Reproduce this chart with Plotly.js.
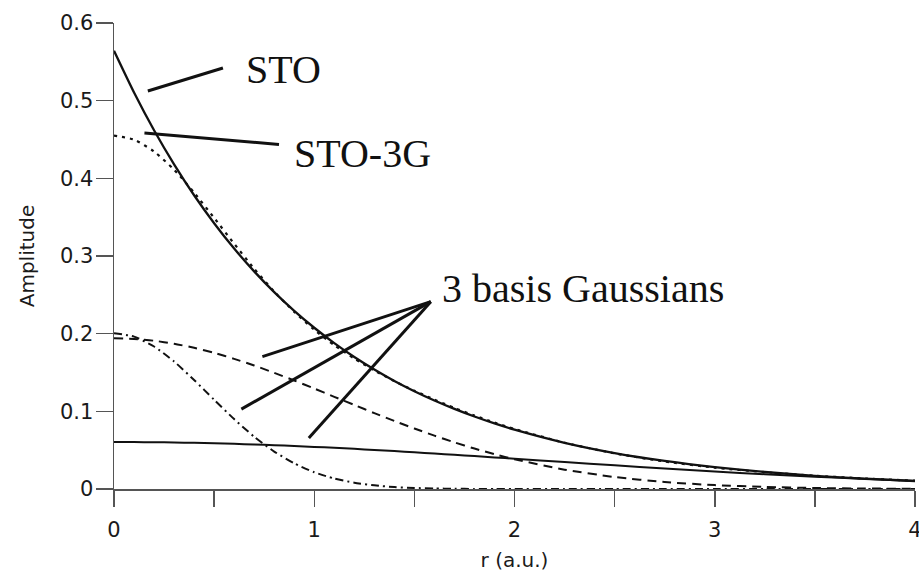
<!DOCTYPE html>
<html>
<head>
<meta charset="utf-8">
<script src="https://cdn.plot.ly/plotly-3.0.1.min.js"></script>
<style>html,body{margin:0;padding:0;background:#fff;}#chart{width:919px;height:573px;}</style>
</head>
<body>
<div id="chart"></div>
<script>
// r in atomic units
const r = [0,0.1,0.2,0.3,0.4,0.5,0.6,0.7,0.8,0.9,1.0,1.1,1.2,1.3,1.4,1.5,1.6,1.7,1.8,1.9,2.0,2.25,2.5,2.75,3.0,3.25,3.5,3.75,4.0];
// Slater-type orbital
const sto = [0.5642,0.5105,0.4619,0.4180,0.3782,0.3422,0.3096,0.2802,0.2535,0.2294,0.2076,0.1878,0.1699,0.1538,0.1391,0.1259,0.1139,0.1031,0.0933,0.0844,0.0764,0.0595,0.0463,0.0361,0.0281,0.0219,0.0170,0.0133,0.0103];
// STO-3G contracted function
const sto3g = [0.4551,0.4498,0.4346,0.4111,0.3816,0.3491,0.3158,0.2836,0.2542,0.2281,0.2051,0.1852,0.1680,0.1527,0.1389,0.1265,0.1151,0.1043,0.0946,0.0855,0.0773,0.0596,0.0459,0.0354,0.0275,0.0217,0.0171,0.0135,0.0107];
// three basis Gaussians
const gaussTight = [0.2006,0.1962,0.1835,0.1642,0.1404,0.1149,0.0900,0.0673,0.0482,0.0330,0.0216,0.0135,0.0081,0.0047,0.0025,0.0013,0.0007,0.0003,0.0001,0.0000,0,0,0,0,0,0,0,0,0];
const gaussMid = [0.1940,0.1932,0.1909,0.1870,0.1818,0.1753,0.1676,0.1590,0.1496,0.1397,0.1293,0.1187,0.1082,0.0977,0.0876,0.0779,0.0687,0.0600,0.0521,0.0448,0.0383,0.0249,0.0154,0.0090,0.0050,0.0027,0.0013,0.0006,0.0003];
const gaussDiffuse = [0.0605,0.0604,0.0602,0.0599,0.0594,0.0589,0.0582,0.0573,0.0564,0.0554,0.0542,0.0530,0.0517,0.0503,0.0488,0.0473,0.0457,0.0440,0.0424,0.0407,0.0390,0.0347,0.0305,0.0264,0.0225,0.0190,0.0158,0.0129,0.0104];

const labels = {sto: 'STO', sto3g: 'STO-3G', gauss: '3 basis Gaussians'};
const xTitle = 'r (a.u.)';
const yTitle = 'Amplitude';

const black = '#111';
function tr(y, dash, width) {
  return {x: r, y: y, type: 'scatter', mode: 'lines',
    line: {color: black, width: width, dash: dash, shape: 'spline', smoothing: 0.6},
    hoverinfo: 'skip', showlegend: false};
}
const data = [
  tr(gaussDiffuse, 'solid', 2),
  tr(gaussMid, '9px,6px', 2),
  tr(gaussTight, '8px,4px,2px,4px', 2),
  tr(sto3g, '3px,5px', 2.2),
  tr(sto, 'solid', 2.3)
];

const serif = {family: 'Liberation Serif, Times New Roman, serif', size: 40, color: '#111'};
const lineStyle = {color: black, width: 3};
function seg(x0, y0, x1, y1) {
  return {type: 'line', xref: 'x', yref: 'y', x0: x0, y0: y0, x1: x1, y1: y1, line: lineStyle};
}

const tickFont = {family: 'DejaVu Sans, sans-serif', size: 21, color: '#1a1a1a'};
const titleFont = {family: 'DejaVu Sans, sans-serif', size: 20, color: '#1a1a1a'};
const layout = {
  width: 919, height: 573,
  margin: {l: 114, r: 4, t: 23, b: 84},
  paper_bgcolor: '#fff', plot_bgcolor: '#fff',
  showlegend: false,
  xaxis: {
    range: [0, 4], dtick: 1, tick0: 0,
    showline: true, linecolor: '#555', linewidth: 1.5,
    ticks: 'outside', ticklen: 16, tickwidth: 1.5, tickcolor: '#555',
    minor: {dtick: 0.5, ticks: 'outside', ticklen: 16, tickwidth: 1.5, tickcolor: '#555'},
    showgrid: false, zeroline: false,
    tickfont: tickFont, ticklabeloverflow: 'allow', ticklabelstandoff: 5,
    title: {text: xTitle, font: titleFont, standoff: 12}
  },
  yaxis: {
    range: [0, 0.6], dtick: 0.1, tick0: 0,
    showline: true, linecolor: '#555', linewidth: 1.5,
    ticks: 'outside', ticklen: 17, tickwidth: 1.5, tickcolor: '#555',
    showgrid: false, zeroline: false,
    tickfont: tickFont, ticklabelstandoff: -2,
    title: {text: yTitle, font: titleFont, standoff: 20}
  },
  shapes: [
    seg(0.169, 0.5125, 0.544, 0.542),
    seg(0.152, 0.4585, 0.824, 0.4436),
    seg(1.582, 0.2412, 0.741, 0.1705),
    seg(1.582, 0.2412, 0.636, 0.1029),
    seg(1.582, 0.2412, 0.973, 0.0656)
  ],
  annotations: [
    {text: labels.sto, x: 0.647, y: 0.540, xref: 'x', yref: 'y', xanchor: 'left', yanchor: 'middle', showarrow: false, font: serif},
    {text: labels.sto3g, x: 0.887, y: 0.4318, xref: 'x', yref: 'y', xanchor: 'left', yanchor: 'middle', showarrow: false, font: serif},
    {text: labels.gauss, x: 1.627, y: 0.2586, xref: 'x', yref: 'y', xanchor: 'left', yanchor: 'middle', showarrow: false, font: serif}
  ]
};

Plotly.newPlot('chart', data, layout, {staticPlot: true, displayModeBar: false});
</script>
</body>
</html>
